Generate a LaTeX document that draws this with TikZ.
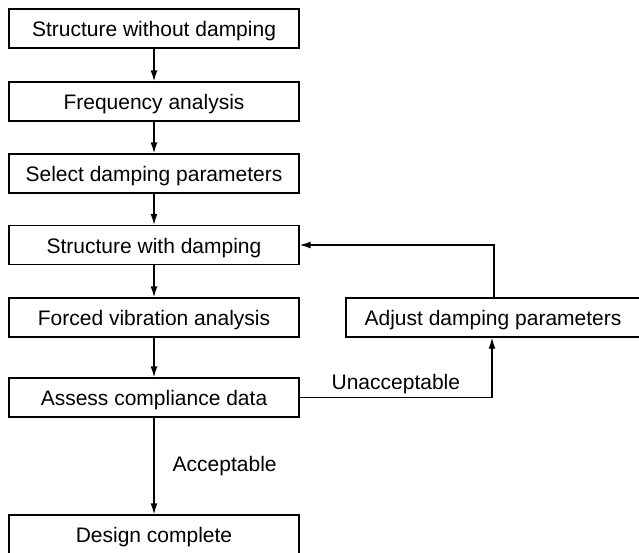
\documentclass[tikz,border=0pt]{standalone}
\usepackage{fontspec}
\setmainfont{Liberation Sans}
\usetikzlibrary{arrows.meta}
\begin{document}
\begin{tikzpicture}[x=1pt,y=-1pt,
  stagebox/.style={draw, line width=1.4pt, minimum width=290pt, minimum height=39pt,
    inner sep=0pt, font=\fontsize{21}{25}\selectfont, text height=16.4pt, text depth=0pt},
  flow/.style={line width=1.4pt, -{Latex[length=11pt,width=7pt]}},
  note/.style={font=\fontsize{21}{25}\selectfont, inner sep=0pt}]
  \clip (0,0) rectangle (639,552);
  \useasboundingbox (0,0) rectangle (639,552);

  % main column of stages
  \node[stagebox] (s1) at (154,28.5)  {Structure without damping};
  \node[stagebox] (s2) at (154,101.5) {Frequency analysis};
  \node[stagebox] (s3) at (154,173.5) {Select damping parameters};
  \node[stagebox] (s4) at (154,245)   {Structure with damping};
  \node[stagebox] (s5) at (154,317.5) {Forced vibration analysis};
  \node[stagebox] (s6) at (154,397.5) {Assess compliance data};
  \node[stagebox] (s7) at (154,534.5) {Design complete};

  % feedback stage
  \node[stagebox, minimum width=294pt] (adj) at (493,317.5) {Adjust damping parameters};

  % straight-down flow
  \draw[flow] (s1) -- (s2);
  \draw[flow] (s2) -- (s3);
  \draw[flow] (s3) -- (s4);
  \draw[flow] (s4) -- (s5);
  \draw[flow] (s5) -- (s6);
  \draw[flow] (s6) -- node[note, right=18pt] {Acceptable} (s7);

  % loop back through the adjustment stage
  \draw[flow] (s6.east) -- node[note, above=3pt] {Unacceptable} (492,397.5) -- (adj.south -| 492,0);
  \draw[flow] (adj.north -| 494,0) -- (494,245) -- (s4.east);
\end{tikzpicture}
\end{document}
